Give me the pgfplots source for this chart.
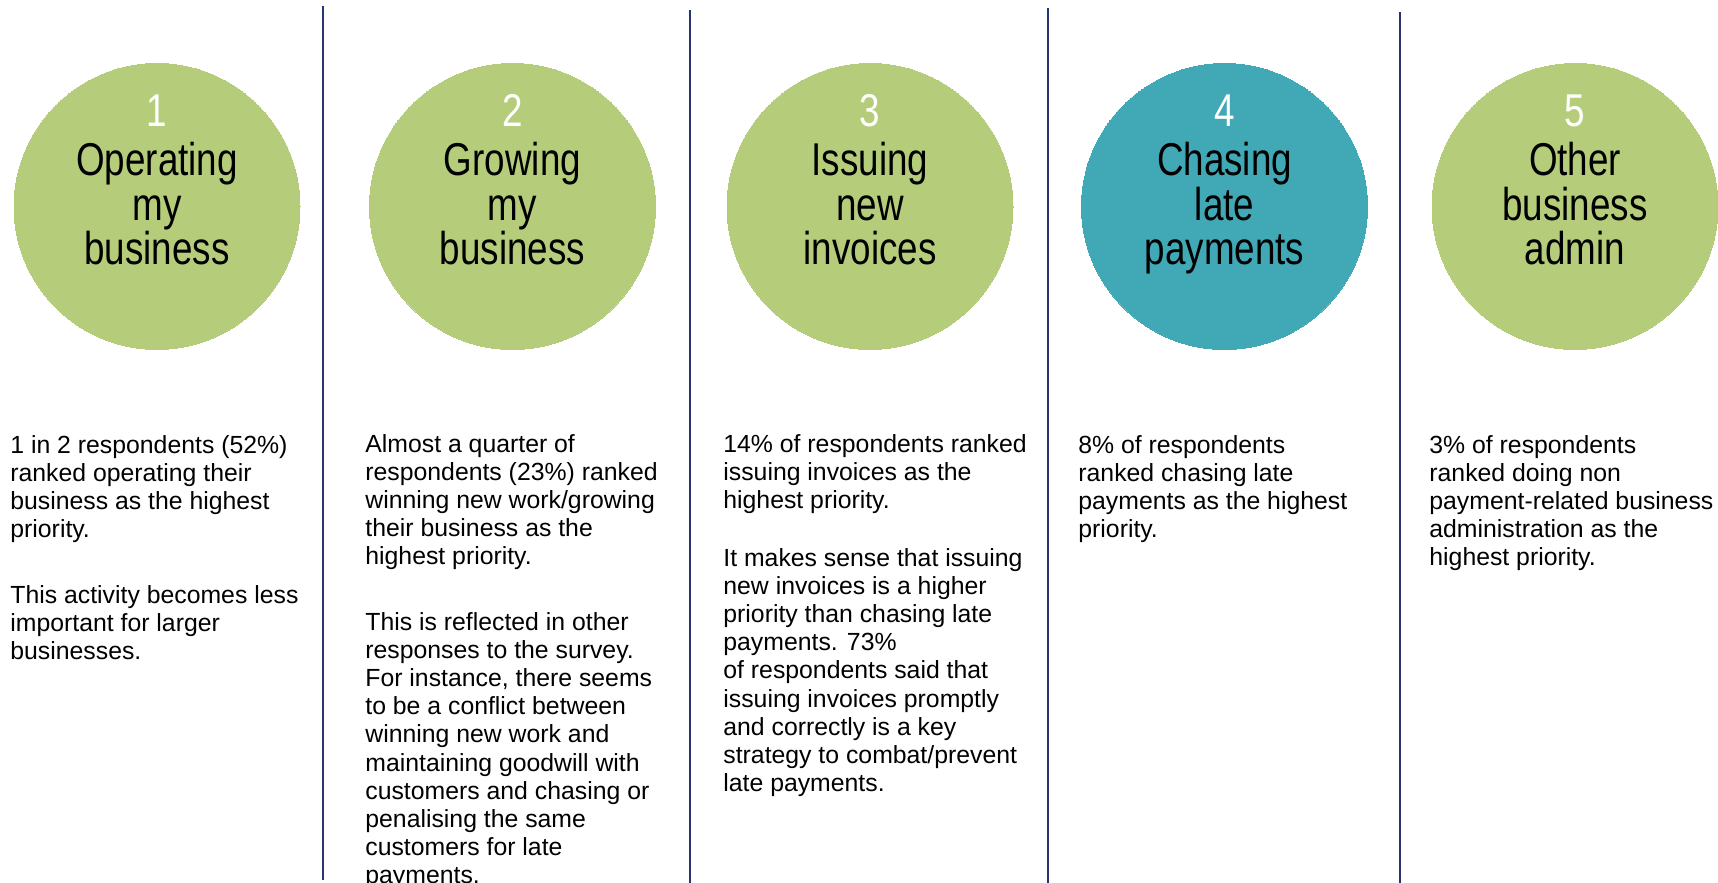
\documentclass[border=0pt]{standalone}
\usepackage{pgfplots}
\pgfplotsset{compat=1.18}
\usepackage{fontspec}
\setmainfont{Liberation Sans}
\newfontfamily\narrow[FakeStretch=0.8]{Liberation Sans}
\definecolor{cgreen}{RGB}{181,205,122}
\definecolor{cteal}{RGB}{65,168,182}
\definecolor{cnavy}{RGB}{40,52,110}
\newcommand{\circtext}[5]{%
  \node[anchor=base, inner sep=0pt, text=white, font=\narrow\fontsize{23}{23}\selectfont] at (axis cs:#1,127) {#2};
  \node[anchor=base, inner sep=0pt, text=black, font=\narrow\fontsize{23}{23}\selectfont] at (axis cs:#1,176) {#3};
  \node[anchor=base, inner sep=0pt, text=black, font=\narrow\fontsize{23}{23}\selectfont] at (axis cs:#1,221) {#4};
  \node[anchor=base, inner sep=0pt, text=black, font=\narrow\fontsize{23}{23}\selectfont] at (axis cs:#1,265) {#5};
}
\newcommand{\para}[3]{%
  \node[anchor=base west, inner sep=0pt, text=black, font=\fontsize{12.4}{14.1}\selectfont] at (axis cs:#1,#2) {\parbox[t]{200pt}{\raggedright #3}};
}
\pgfplotsset{base/.style={at={(0,0)}, anchor=south west, scale only axis,
  width=859pt, height=441.5pt,
  xmin=0, xmax=1718, ymin=0, ymax=883, y dir=reverse,
  hide axis, clip=false}}
\begin{document}
\begin{tikzpicture}
\begin{axis}[base]
% circles
\addplot[only marks, mark=*, mark size=71.5pt, mark options={draw=cgreen, fill=cgreen, line width=0pt}]
  coordinates {(157,206.5) (512.5,206.5) (870,206.5) (1575,206.5)};
\addplot[only marks, mark=*, mark size=71.5pt, mark options={draw=cteal, fill=cteal, line width=0pt}]
  coordinates {(1224.5,206.5)};
% separators
\addplot[cnavy, line width=1.1pt] coordinates {(323,6) (323,880)};
\addplot[cnavy, line width=1.1pt] coordinates {(690,10) (690,883)};
\addplot[cnavy, line width=1.1pt] coordinates {(1048,8) (1048,883)};
\addplot[cnavy, line width=1.1pt] coordinates {(1400,12) (1400,883)};
% body text
\para{10}{453}{1 in 2 respondents (52\%)\\ranked operating their\\business as the highest\\priority.}
\para{10}{603}{This activity becomes less\\important for larger\\businesses.}
\para{365}{452}{Almost a quarter of\\respondents (23\%) ranked\\winning new work/growing\\their business as the\\highest priority.}
\para{365}{630}{This is reflected in other\\responses to the survey.\\For instance, there seems\\to be a conflict between\\winning new work and\\maintaining goodwill with\\customers and chasing or\\penalising the same\\customers for late\\payments.}
\para{723}{452}{14\% of respondents ranked\\issuing invoices as the\\highest priority.}
\para{723}{566}{It makes sense that issuing\\new invoices is a higher\\priority than chasing late\\payments. 73\%\\of respondents said that\\issuing invoices promptly\\and correctly is a key\\strategy to combat/prevent\\late payments.}
\para{1078}{453}{8\% of respondents\\ranked chasing late\\payments as the highest\\priority.}
\para{1429}{453}{3\% of respondents\\ranked doing non\\payment-related business\\administration as the\\highest priority.}
\end{axis}
\begin{axis}[base]
% circle labels
\circtext{157}{1}{Operating}{my}{business}
\circtext{512.5}{2}{Growing}{my}{business}
\circtext{870}{3}{Issuing}{new}{invoices}
\circtext{1224.5}{4}{Chasing}{late}{payments}
\circtext{1575}{5}{Other}{business}{admin}
\end{axis}
\pgfresetboundingbox
\useasboundingbox (0,0) rectangle (859pt,441.5pt);
\end{tikzpicture}
\end{document}
